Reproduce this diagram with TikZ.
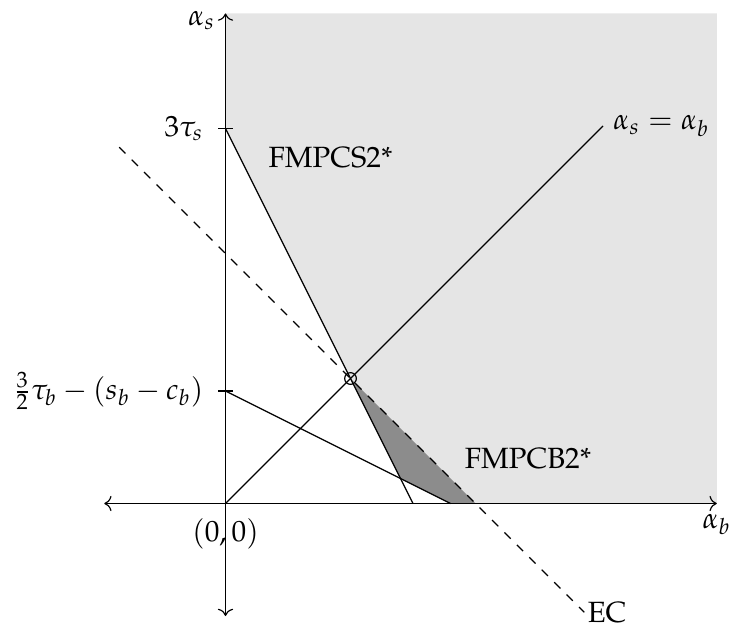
\documentclass[tikz,border=0pt]{standalone}
\usepackage[T1]{fontenc}
\usepackage{mathpazo}
\usetikzlibrary{arrows.meta,positioning,calc}
\definecolor{regLight}{gray}{0.9}
\definecolor{regDark}{gray}{0.55}

\begin{document}
\begin{tikzpicture}[x=1.5cm,y=1.5cm,
  tickmark/.style={thin},
  mk/.style={circle,draw,inner sep=0pt,minimum size=4pt}]
\useasboundingbox (-1.804,-1.052) rectangle (4.036,4.028);
\coordinate (O) at (0,0);
\coordinate (xl) at (-0.97,0);
\coordinate (xr) at (3.93,0);
\coordinate (yb) at (0,-0.9);
\coordinate (yt) at (0,3.92);
\coordinate (ts) at (0,3);
\coordinate (tb) at (0,0.9);
\coordinate (P) at (1,1);
\coordinate (Q) at (1.4,0.2);
\coordinate (A) at (1.5,0);
\coordinate (B) at (1.8,0);
\coordinate (C) at (2,0);
\coordinate (D) at (3.02,3.02);
\coordinate (ecA) at (-0.85,2.85);
\coordinate (ecB) at (2.87,-0.87);
\fill[regLight] (yt) -- (3.93,3.92) -- (xr) -- (C) -- (P) -- (ts) -- cycle;
\fill[regDark] (P) -- (Q) -- (B) -- (C) -- cycle;
\draw[<->] (xl) -- (xr) node[below] (ab) {$\alpha_b$};
\draw[<->] (yb) -- (yt) node[left,yshift=-2.5pt] (as) {$\alpha_s$};
\draw[tickmark] ($(ts)+(-2.4pt,0)$) -- ($(ts)+(2.4pt,0)$);
\draw[tickmark] ($(tb)+(-2.4pt,0)$) -- ($(tb)+(2.4pt,0)$);
\node[left=4pt of ts] (lts) {$3\tau_s$};
\node[left=4pt of tb] (ltb) {$\frac{3}{2}\tau_b-(s_b-c_b)$};
\node[below=1.5pt of O] (lo) {$(0,0)$};
\draw (ts) -- (A);
\draw (tb) -- (B);
\draw (O) -- (D) node[right] (ld) {$\alpha_s=\alpha_b$};
\draw[dashed] (ecA) -- (ecB) node[anchor=west,inner sep=1pt] (lec) {EC};
\node[mk] (pm) at (P) {};
\node (fs) at (0.84,2.77) {FMPCS2*};
\node (fb) at (2.42,0.36) {FMPCB2*};
\end{tikzpicture}
\end{document}
